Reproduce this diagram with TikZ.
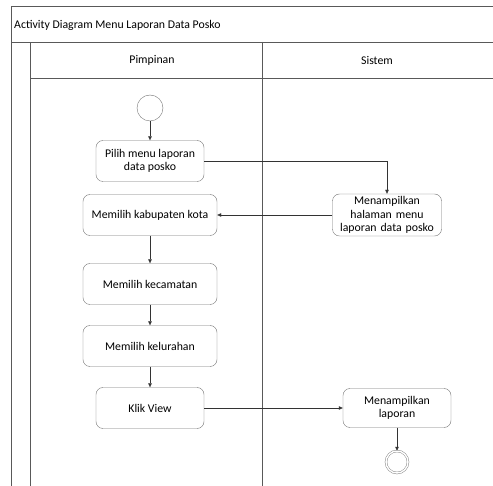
\documentclass[tikz,border=0pt]{standalone}
\usepackage{fontspec}
\setmainfont{Carlito}
\usepackage{tikz}
\usetikzlibrary{arrows.meta,positioning}

\begin{document}
\begin{tikzpicture}[x=1pt,y=-1pt,font=\fontsize{11.8}{13.5}\selectfont,>={Triangle[length=4pt,width=3.5pt]},
act/.style={draw=black!55,rounded corners=7pt,align=center,minimum height=41pt,inner sep=1pt},
lane/.style={draw=black!65,line width=0.7pt},
flow/.style={->,draw=black!80}]
\useasboundingbox (0,0) rectangle (493,486);
% frame and swimlanes
\draw[lane] (11,486)--(11,6)--(493,6);
\draw[lane] (11,42)--(493,42);
\draw[lane] (30,486)--(30,42);
\draw[lane] (30,78)--(493,78);
\draw[lane] (262,42)--(262,486);
\node[anchor=west,inner sep=0pt] (title) at (14,25) {Activity Diagram Menu Laporan Data Posko};
\node (pimpinan) at (152,60) {Pimpinan};
\node (sistem) at (377,60) {Sistem};
% activities
\node[draw=black!55,circle,minimum size=26pt,inner sep=0pt] (start) at (150,108) {};
\node[act,minimum width=108pt] (pilih) at (150,161) {Pilih menu laporan\\data posko};
\node[act,minimum width=134pt] (kab) at (150,215) {Memilih kabupaten kota};
\node[act,minimum width=134pt] (kec) at (150,284) {Memilih kecamatan};
\node[act,minimum width=134pt] (kel) at (150,346) {Memilih kelurahan};
\node[act,minimum width=108pt] (klik) at (150,408) {Klik View};
\node[act,minimum width=109pt,minimum height=42pt,text width=106pt] (halaman) at (387,215) {Menampilkan\\halaman menu\\laporan data posko};
\node[act,minimum width=108pt,minimum height=39pt] (laporan) at (397,408) {Menampilkan\\laporan};
\node[draw=black!55,circle,double=white,double distance=1.5pt,minimum size=22pt,inner sep=0pt] (end) at (397,462) {};
% flows
\draw[flow] (start)--(pilih);
\draw[flow] (pilih.east)-|(halaman.north);
\draw[flow] (halaman.west)--(kab.east);
\draw[flow] (kab)--(kec);
\draw[flow] (kec)--(kel);
\draw[flow] (kel)--(klik);
\draw[flow] (klik.east)--(laporan.west);
\draw[flow] (laporan)--(end);
\end{tikzpicture}
\end{document}
